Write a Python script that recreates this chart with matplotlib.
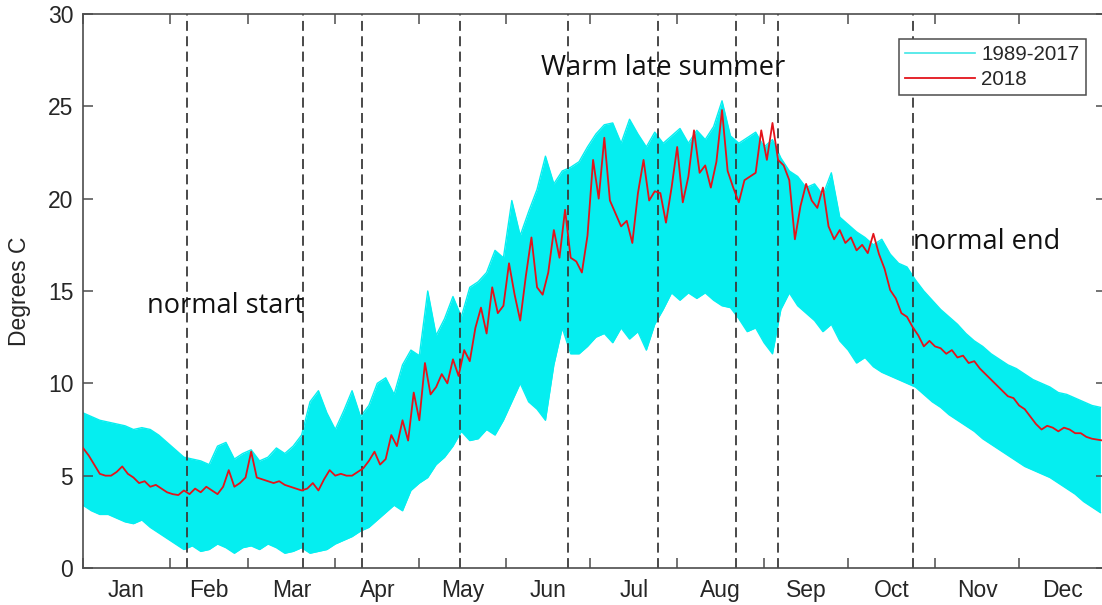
import numpy as np
import matplotlib.pyplot as plt

plt.rcParams['font.family'] = ['Liberation Sans', 'DejaVu Sans']

months = ['Jan', 'Feb', 'Mar', 'Apr', 'May', 'Jun',
          'Jul', 'Aug', 'Sep', 'Oct', 'Nov', 'Dec']
month_start = [0, 31, 59, 90, 120, 151, 181, 212, 243, 273, 304, 334, 365]

# sampling dates marked with dashed lines (day of year)
sample_days = [37, 78.5, 99.5, 134.5, 173, 205, 233, 248, 296]

# 2018 daily temperature, every second day
temp_2018 = [
    6.5, 6.1, 5.6, 5.1, 5.0, 5.0, 5.2, 5.5, 5.1, 4.9, 4.6, 4.7, 4.4, 4.5, 4.3,
    4.1, 4.0, 3.95, 4.2, 4.0, 4.3, 4.1, 4.4, 4.2, 4.0, 4.4, 5.3, 4.4, 4.6, 4.9,
    6.3, 4.9, 4.8, 4.7, 4.6, 4.7, 4.5, 4.4, 4.3, 4.2, 4.3, 4.6, 4.2, 4.8, 5.3,
    5.0, 5.1, 5.0, 5.0, 5.2, 5.4, 5.8, 6.3, 5.6, 5.9, 7.2, 6.6, 8.0, 6.9, 9.5,
    8.0, 11.1, 9.4, 9.8, 10.5, 10.0, 11.3, 10.4, 11.8, 11.2, 13.0, 14.1, 12.7, 15.2, 13.8,
    14.2, 16.5, 14.8, 13.4, 15.8, 17.9, 15.2, 14.8, 16.0, 18.3, 16.8, 19.4, 16.8, 16.6, 16.0,
    18.0, 22.1, 20.0, 23.3, 19.9, 19.2, 18.5, 18.8, 17.6, 20.3, 22.1, 19.9, 20.4, 20.3, 18.7,
    20.6, 22.8, 19.8, 21.2, 23.7, 21.4, 21.8, 20.6, 22.0, 24.8, 21.5, 20.6, 19.8, 21.0, 21.2,
    21.4, 23.7, 22.1, 24.1, 22.1, 21.8, 21.0, 17.8, 19.6, 20.8, 19.9, 19.5, 20.6, 18.5, 17.8,
    18.3, 17.6, 17.9, 17.2, 17.5, 17.05, 18.1, 17.0, 16.2, 15.05, 14.6, 13.8, 13.6, 13.05, 12.6,
    12.0, 12.3, 12.0, 11.9, 11.6, 11.8, 11.4, 11.5, 11.1, 11.2, 10.8, 10.5, 10.2, 9.9, 9.6,
    9.3, 9.2, 8.8, 8.6, 8.2, 7.8, 7.5, 7.7, 7.6, 7.4, 7.6, 7.5, 7.3, 7.3, 7.1,
    7.0, 6.95, 6.9,
]

# 1989-2017 spread: daily max / min over all years, every third day
clim_hi = [
    8.4, 8.2, 8.0, 7.9, 7.8, 7.7, 7.5, 7.6, 7.5, 7.2,
    6.8, 6.4, 6.0, 5.9, 5.8, 5.6, 6.6, 6.8, 5.9, 6.2,
    6.4, 5.8, 6.0, 6.5, 6.2, 6.6, 7.2, 9.0, 9.6, 8.4,
    7.5, 8.5, 9.6, 8.2, 8.8, 10.0, 10.3, 9.4, 11.0, 11.8,
    11.5, 15.0, 12.6, 13.5, 14.7, 13.6, 15.2, 15.5, 16.0, 17.2,
    16.8, 19.9, 18.0, 19.3, 20.5, 22.3, 20.8, 21.5, 21.7, 22.0,
    22.8, 23.5, 24.0, 24.1, 23.0, 24.3, 23.5, 22.8, 23.6, 23.0,
    23.4, 23.8, 23.0, 23.7, 23.2, 23.9, 25.3, 23.4, 23.0, 23.3,
    23.6, 22.8, 23.2, 22.2, 21.5, 21.2, 20.6, 20.8, 20.2, 21.4,
    19.0, 18.6, 18.2, 17.9, 17.5, 17.8, 17.0, 16.5, 16.3, 15.6,
    15.0, 14.5, 14.0, 13.6, 13.2, 12.7, 12.3, 12.0, 11.6, 11.3,
    11.0, 10.8, 10.5, 10.2, 10.0, 9.8, 9.5, 9.4, 9.2, 9.0,
    8.8, 8.7,
]
clim_lo = [
    3.4, 3.1, 2.9, 2.9, 2.7, 2.5, 2.4, 2.6, 2.2, 1.9,
    1.6, 1.3, 1.0, 1.2, 0.9, 1.0, 1.3, 1.1, 0.8, 1.1,
    1.2, 1.0, 1.3, 1.1, 0.8, 0.9, 1.1, 0.8, 0.9, 1.0,
    1.3, 1.5, 1.7, 2.0, 2.2, 2.6, 3.0, 3.4, 3.1, 4.2,
    4.6, 4.9, 5.6, 6.0, 6.6, 7.4, 6.9, 7.0, 7.5, 7.2,
    8.0, 9.0, 10.0, 9.0, 8.6, 8.0, 11.0, 13.0, 11.6, 11.6,
    12.0, 12.5, 12.7, 12.2, 13.0, 12.4, 12.8, 11.8, 13.2, 14.0,
    14.9, 14.5, 14.9, 14.6, 14.9, 14.5, 14.2, 14.1, 13.5, 12.8,
    13.0, 12.2, 11.6, 14.0, 14.9, 14.2, 13.8, 13.4, 12.8, 13.2,
    12.3, 11.8, 11.1, 11.4, 10.9, 10.6, 10.4, 10.2, 10.0, 9.8,
    9.4, 9.0, 8.7, 8.3, 8.0, 7.7, 7.4, 7.0, 6.7, 6.4,
    6.1, 5.8, 5.5, 5.3, 5.1, 4.9, 4.6, 4.3, 4.0, 3.6,
    3.3, 3.0,
]

day_2018 = np.arange(0, 365, 2)
day_clim = np.arange(0, 364, 3)

cyan = '#05eef0'
red = '#e3141b'
grey = '#4d4d4d'

fig = plt.figure(figsize=(11.02, 6.05), dpi=100)
ax = fig.add_axes([83 / 1102, 37 / 605, 1023 / 1102, 554 / 605])

ax.fill_between(day_clim, clim_lo, clim_hi, color=cyan, lw=0, zorder=1)
ax.plot(day_clim, clim_hi, color=cyan, lw=1.0, zorder=1)
ax.plot(day_clim, clim_lo, color=cyan, lw=1.0, zorder=1)
ax.plot([], [], color='#3fe6e6', lw=1.2, label='1989-2017')

for d in sample_days:
    ax.axvline(d, color='#3a3a3a', lw=1.3, ls=(0, (5.5, 3)), zorder=2)

ax.plot(day_2018, temp_2018, color=red, lw=1.3, zorder=3, label='2018')

ax.set_xlim(0, 365)
ax.set_ylim(0, 30)
ax.set_yticks(range(0, 31, 5))

ax.set_xticks(month_start[:-1])
ax.set_xticklabels([])
mid = [(a + b) / 2 for a, b in zip(month_start[:-1], month_start[1:])]
ax.set_xticks(mid, minor=True)
ax.set_xticklabels(months, minor=True)

ax.tick_params(axis='x', which='major', direction='in', length=7, width=1.1,
               top=True, color=grey)
ax.tick_params(axis='x', which='minor', length=0, pad=8,
               labelsize=16.5, labelcolor='#262626')
ax.tick_params(axis='y', direction='in', length=7, width=1.1, right=True,
               color=grey, labelsize=16.5, labelcolor='#262626', pad=7)
for s in ax.spines.values():
    s.set_color(grey)
    s.set_linewidth(1.2)

ax.set_ylabel('Degrees C', fontsize=16.5, color='#262626', labelpad=12)

note = dict(family=['Open Sans', 'DejaVu Sans'], fontsize=19.5, color='#111111')
ax.text(22.8, 13.8, 'normal start', va='baseline', **note)
ax.text(163.5, 26.7, 'Warm late summer', va='baseline', **note)
ax.text(296.2, 17.3, 'normal end', va='baseline', **note)

leg = ax.legend(loc='upper right', bbox_to_anchor=(0.980, 0.955), fontsize=14.8,
                frameon=True, fancybox=False, framealpha=1, edgecolor=grey,
                handlelength=3.4, handletextpad=0.3, labelspacing=0.3,
                borderpad=0.3, borderaxespad=0)
leg.get_frame().set_linewidth(1.1)
for t in leg.get_texts():
    t.set_color('#262626')

fig.savefig('out.png', dpi=100)
